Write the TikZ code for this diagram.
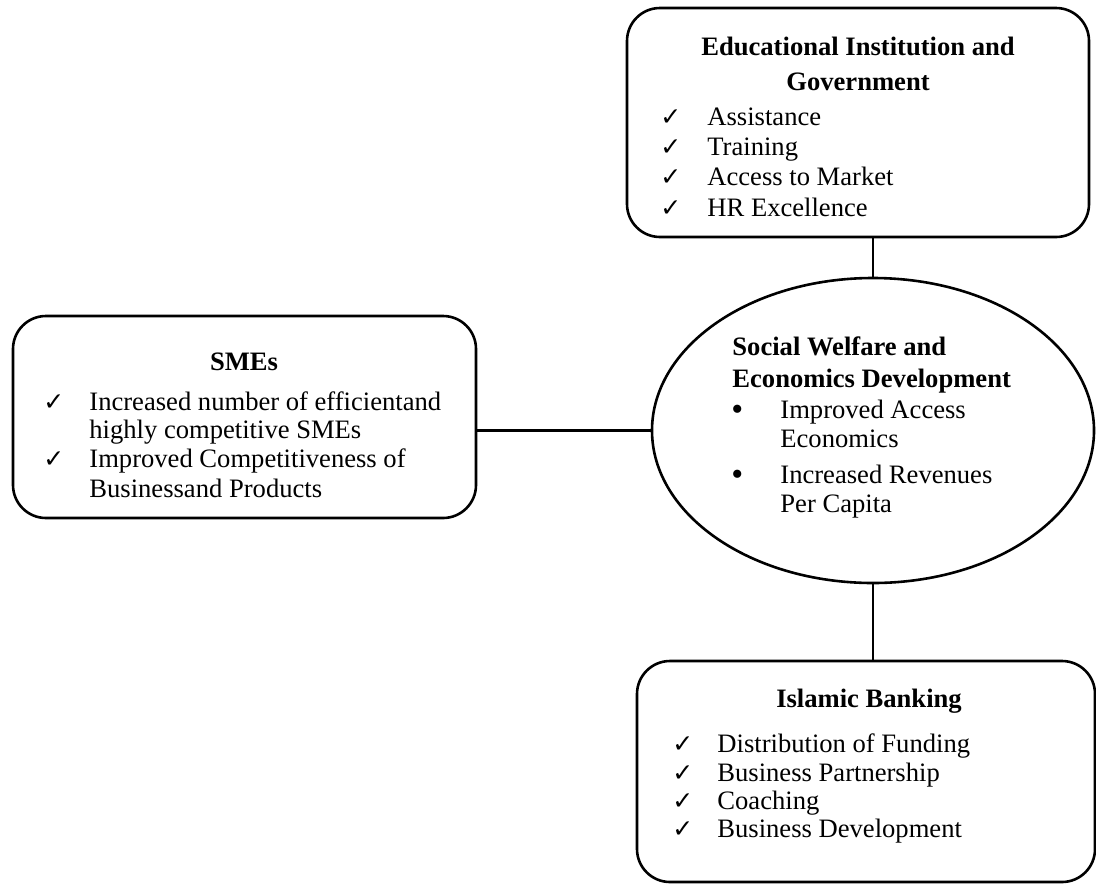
\documentclass[tikz,border=0pt]{standalone}
\usepackage{fontspec}
\setmainfont{Liberation Serif}
\newfontfamily\chkfont{DejaVu Sans}
\usetikzlibrary{shapes.geometric}
\begin{document}
\begin{tikzpicture}[x=0.5pt,y=-0.5pt,
  box/.style={draw, line width=1.3pt, rounded corners=16.5pt, inner sep=0pt, outer sep=0pt},
  ell/.style={draw, ellipse, line width=1.3pt, inner sep=0pt, outer sep=0pt},
  txt/.style={inner sep=0pt, anchor=base west, font=\fontsize{13.3}{15}\selectfont},
  bul/.style={inner sep=0pt, anchor=base west, font=\fontsize{17}{18}\selectfont},
  ttl/.style={inner sep=0pt, anchor=base, font=\fontsize{13.3}{15}\selectfont\bfseries},
  ttlw/.style={inner sep=0pt, anchor=base west, font=\fontsize{13.3}{15}\selectfont\bfseries},
  chk/.style={inner sep=0pt, anchor=base west, font=\chkfont\fontsize{12.5}{15}\selectfont},
  con/.style={line width=1.3pt}]
\useasboundingbox (0,0) rectangle (1096,884);

% shapes
\node[box, minimum width=231pt, minimum height=114.5pt] (top) at (858,122.5) {};
\node[box, minimum width=231.5pt, minimum height=101pt] (left) at (244.5,417) {};
\node[box, minimum width=229pt, minimum height=110.5pt] (bot) at (866,771.5) {};
\node[ell, minimum width=221pt, minimum height=152.5pt] (cen) at (873,430.5) {};

% connectors
\draw[con] (cen.north) -- (cen.north |- top.south);
\draw[con] (cen.west) -- (cen.west -| left.east);
\draw[con] (cen.south) -- (cen.south |- bot.north);

% top box text
\node[ttl] (t1) at (858,55) {Educational Institution and};
\node[ttl] (t2) at (858,90) {Government};
\node[chk] (tc1) at (660,125) {✓};
\node[txt] (ti1) at (707,125) {Assistance};
\node[chk] (tc2) at (660,155) {✓};
\node[txt] (ti2) at (707,155) {Training};
\node[chk] (tc3) at (660,185) {✓};
\node[txt] (ti3) at (707,185) {Access to Market};
\node[chk] (tc4) at (660,216) {✓};
\node[txt] (ti4) at (707,216) {HR Excellence};

% left box text
\node[ttl] (l1) at (244,370) {SMEs};
\node[chk] (lc1) at (43,410) {✓};
\node[txt] (li1) at (89,410) {Increased number of efficientand};
\node[txt] (li2) at (89,438) {highly competitive SMEs};
\node[chk] (lc2) at (43,467) {✓};
\node[txt] (li3) at (89,467) {Improved Competitiveness of};
\node[txt] (li4) at (89,497) {Businessand Products};

% ellipse text
\node[ttlw] (c1) at (732,355) {Social Welfare and};
\node[ttlw] (c2) at (732,387) {Economics Development};
\node[bul] (cb1) at (731,420) {•};
\node[txt] (ci1) at (780,418) {Improved Access};
\node[txt] (ci2) at (780,447) {Economics};
\node[bul] (cb2) at (731,485) {•};
\node[txt] (ci3) at (780,483) {Increased Revenues};
\node[txt] (ci4) at (780,512) {Per Capita};

% bottom box text
\node[ttl] (b1) at (869,707) {Islamic Banking};
\node[chk] (bc1) at (672,752) {✓};
\node[txt] (bi1) at (717,752) {Distribution of Funding};
\node[chk] (bc2) at (672,781) {✓};
\node[txt] (bi2) at (717,781) {Business Partnership};
\node[chk] (bc3) at (672,809) {✓};
\node[txt] (bi3) at (717,809) {Coaching};
\node[chk] (bc4) at (672,837) {✓};
\node[txt] (bi4) at (717,837) {Business Development};
\end{tikzpicture}
\end{document}
